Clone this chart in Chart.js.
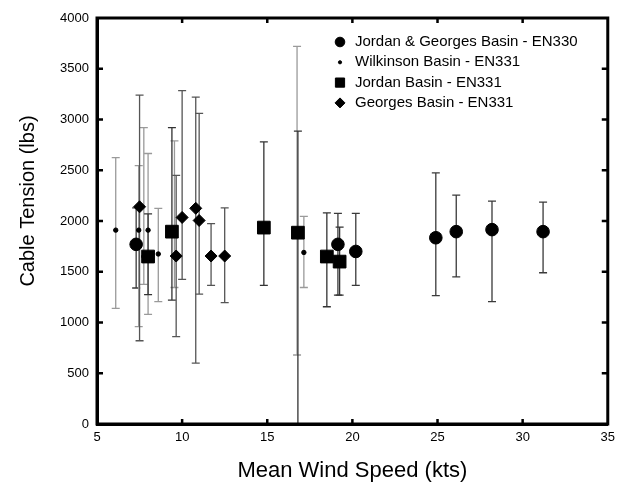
<!DOCTYPE html>
<html>
<head>
<meta charset="utf-8">
<script src="https://cdn.jsdelivr.net/npm/chart.js@4/dist/chart.umd.min.js"></script>
<style>
  html, body { margin: 0; padding: 0; background: #fff; }
  #myChart { display: block; }
</style>
</head>
<body>
<canvas id="myChart" width="621" height="490"></canvas>
<script>
// Data: wind speed (kts), tension (lbs), error bar low / high
const en330X  = [7.3, 19.15, 20.2, 24.9, 26.1, 28.2, 31.2];
const en330Y  = [1770, 1770, 1700, 1835, 1895, 1915, 1895];
const en330Lo = [1340, 1270, 1365, 1265, 1450, 1205, 1490];
const en330Hi = [2130, 2075, 2075, 2475, 2255, 2195, 2185];

const wilkX  = [6.1, 7.45, 7.75, 8.0, 8.6, 9.55, 16.75, 17.15];
const wilkY  = [1910, 1910, 1650, 1910, 1675, 1900, 1890, 1690];
const wilkLo = [1140, 960, 1375, 1080, 1205, 1345, 680, 1345];
const wilkHi = [2625, 2545, 2920, 2665, 2125, 2790, 3720, 2045];

const jordanX  = [8.0, 9.4, 14.8, 16.8, 18.5, 19.25];
const jordanY  = [1650, 1895, 1935, 1885, 1650, 1600];
const jordanLo = [1275, 1220, 1365, 0, 1155, 1270];
const jordanHi = [2070, 2920, 2780, 2885, 2080, 1940];

const georgesX  = [7.5, 9.65, 10.0, 10.8, 11.0, 11.7, 12.5];
const georgesY  = [2140, 1655, 2035, 2125, 2005, 1655, 1655];
const georgesLo = [820, 860, 1425, 600, 1280, 1365, 1195];
const georgesHi = [3240, 2450, 3285, 3220, 3060, 1975, 2130];

const seriesNames = ['Jordan & Georges Basin - EN330', 'Wilkinson Basin - EN331',
                     'Jordan Basin - EN331', 'Georges Basin - EN331'];

function pts(xs, ys, lo, hi) {
  return xs.map((v, i) => ({x: v, y: ys[i], lo: lo[i], hi: hi[i]}));
}

Chart.defaults.font.family = '"Liberation Sans", Arial, sans-serif';
Chart.defaults.color = '#000';

// error bars drawn with the chart's scales
const errorBars = {
  id: 'errorBars',
  beforeDatasetsDraw(chart) {
    const ctx = chart.ctx;
    const xs = chart.scales.x, ys = chart.scales.y;
    chart.data.datasets.forEach(ds => {
      ctx.save();
      ctx.strokeStyle = ds.barColor;
      ctx.lineWidth = 1.3;
      ds.data.forEach(p => {
        const px = xs.getPixelForValue(p.x);
        const top = ys.getPixelForValue(p.hi);
        const bot = ys.getPixelForValue(p.lo);
        ctx.beginPath();
        ctx.moveTo(px, top); ctx.lineTo(px, bot);
        ctx.moveTo(px - 4, top); ctx.lineTo(px + 4, top);
        if (p.lo > 0) { ctx.moveTo(px - 4, bot); ctx.lineTo(px + 4, bot); }
        ctx.stroke();
      });
      ctx.restore();
    });
  }
};

// box frame, inward ticks, y title, legend
const frame = {
  id: 'frame',
  afterDraw(chart) {
    const ctx = chart.ctx;
    const a = chart.chartArea;
    const xs = chart.scales.x, ys = chart.scales.y;
    ctx.save();
    ctx.strokeStyle = '#000';
    ctx.lineWidth = 3;
    ctx.strokeRect(a.left, a.top, a.right - a.left, a.bottom - a.top);
    ctx.lineWidth = 2.5;
    ctx.beginPath();
    ys.ticks.forEach(t => {
      if (t.value <= 0 || t.value >= 4000) return;
      const py = ys.getPixelForValue(t.value);
      ctx.moveTo(a.left, py); ctx.lineTo(a.left + 6, py);
      ctx.moveTo(a.right, py); ctx.lineTo(a.right - 6, py);
    });
    xs.ticks.forEach(t => {
      if (t.value <= 5 || t.value >= 35) return;
      const px = xs.getPixelForValue(t.value);
      ctx.moveTo(px, a.bottom); ctx.lineTo(px, a.bottom - 5);
      ctx.moveTo(px, a.top); ctx.lineTo(px, a.top + 5);
    });
    ctx.stroke();

    // y axis title
    ctx.fillStyle = '#000';
    ctx.font = '20px "Liberation Sans", Arial, sans-serif';
    ctx.textAlign = 'center';
    ctx.textBaseline = 'middle';
    ctx.translate(28, (a.top + a.bottom) / 2 - 20);
    ctx.rotate(-Math.PI / 2);
    ctx.fillText('Cable Tension (lbs)', 0, 0);
    ctx.restore();

    // legend
    ctx.save();
    ctx.font = '15px "Liberation Sans", Arial, sans-serif';
    ctx.textAlign = 'left';
    ctx.textBaseline = 'middle';
    ctx.fillStyle = '#000';
    const sizes = [4.8, 1.6, 6.5, 5];
    chart.data.datasets.forEach((ds, i) => {
      const ly = a.top + 24 + i * 20.3;
      Chart.helpers.drawPoint(ctx, {
        pointStyle: ds.pointStyle, radius: sizes[i], rotation: 0, borderWidth: 1
      }, a.left + 243, ly);
      ctx.fillStyle = '#000';
      ctx.fillText(ds.label, a.left + 258, ly);
    });
    ctx.restore();
  }
};

const ctx = document.getElementById('myChart').getContext('2d');
const myChart = new Chart(ctx, {
  type: 'scatter',
  data: {
    datasets: [
      {label: seriesNames[0], data: pts(en330X, en330Y, en330Lo, en330Hi),
       pointStyle: 'circle', pointRadius: 6.3, barColor: '#3a3a3a'},
      {label: seriesNames[1], data: pts(wilkX, wilkY, wilkLo, wilkHi),
       pointStyle: 'circle', pointRadius: 2.2, barColor: '#9a9a9a'},
      {label: seriesNames[2], data: pts(jordanX, jordanY, jordanLo, jordanHi),
       pointStyle: 'rect', pointRadius: 9, barColor: '#333'},
      {label: seriesNames[3], data: pts(georgesX, georgesY, georgesLo, georgesHi),
       pointStyle: 'rectRot', pointRadius: 6, barColor: '#555'}
    ].map(d => Object.assign(d, {
      backgroundColor: '#000', borderColor: '#000', borderWidth: 1,
      pointHoverRadius: d.pointRadius, showLine: false
    }))
  },
  options: {
    responsive: false,
    animation: false,
    layout: {padding: {top: 18, right: 9, left: 0, bottom: 0}},
    plugins: {legend: {display: false}, tooltip: {enabled: false}},
    events: [],
    scales: {
      x: {
        type: 'linear', min: 5, max: 35,
        afterFit(s) { s.height = 66; },
        ticks: {stepSize: 5, font: {size: 13}, padding: 6, maxRotation: 0,
                callback: v => String(v)},
        grid: {display: false, drawTicks: false},
        border: {display: true, color: '#000', width: 3},
        title: {display: true, text: 'Mean Wind Speed (kts)', font: {size: 22},
                padding: {top: 0, bottom: 6}}
      },
      y: {
        min: 0, max: 4000,
        afterFit(s) { s.width = 97; },
        ticks: {stepSize: 500, font: {size: 13}, padding: 8,
                callback: v => String(v)},
        grid: {display: false, drawTicks: false},
        border: {display: true, color: '#000', width: 3}
      }
    }
  },
  plugins: [errorBars, frame]
});
</script>
</body>
</html>
